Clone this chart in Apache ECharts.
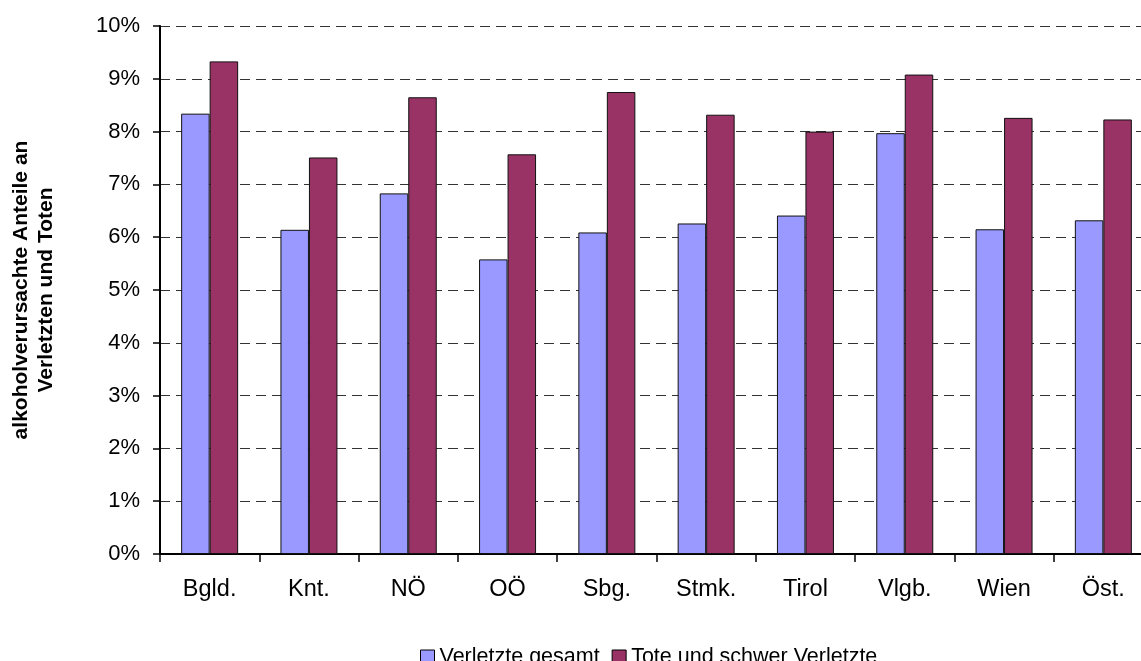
<!DOCTYPE html>
<html>
<head>
<meta charset="utf-8">
<script src="https://cdn.jsdelivr.net/npm/echarts@6/dist/echarts.min.js"></script>
<style>
html,body{margin:0;padding:0;background:#fff;}
#main{width:1141px;height:661px;}
</style>
</head>
<body>
<div id="main"></div>
<script>
const categories = ['Bgld.', 'Knt.', 'NÖ', 'OÖ', 'Sbg.', 'Stmk.', 'Tirol', 'Vlgb.', 'Wien', 'Öst.'];
const verletzteGesamt = [8.34, 6.14, 6.83, 5.58, 6.09, 6.26, 6.41, 7.97, 6.15, 6.32];
const toteSchwerVerletzte = [9.33, 7.51, 8.65, 7.57, 8.75, 8.32, 8.00, 9.08, 8.26, 8.23];
const yTicks = [0, 1, 2, 3, 4, 5, 6, 7, 8, 9, 10];

const FONT = "'Liberation Sans', Arial, sans-serif";
const chart = echarts.init(document.getElementById('main'), null, {renderer: 'canvas'});
chart.setOption({
  animation: false,
  backgroundColor: '#ffffff',
  textStyle: {fontFamily: FONT, color: '#000'},
  grid: {left: 160, top: 26, width: 993, height: 528, containLabel: false, outerBoundsMode: 'none'},
  legend: {
    left: 415, top: 641,
    itemWidth: 14, itemHeight: 14, itemGap: 12,
    textStyle: {fontFamily: FONT, fontSize: 21.5, color: '#000'},
    data: [
      {name: 'Verletzte gesamt', icon: 'rect', itemStyle: {borderColor: '#000', borderWidth: 1}},
      {name: 'Tote und schwer Verletzte', icon: 'rect', itemStyle: {borderColor: '#000', borderWidth: 1}}
    ]
  },
  xAxis: {
    type: 'category',
    data: categories,
    boundaryGap: true,
    axisLine: {lineStyle: {color: '#000', width: 2}},
    axisTick: {show: true, length: 8, lineStyle: {color: '#000', width: 1.5}, alignWithLabel: false},
    axisLabel: {fontFamily: FONT, fontSize: 23.5, color: '#000', margin: 24},
    splitLine: {show: false}
  },
  yAxis: {
    type: 'value',
    min: yTicks[0], max: yTicks[yTicks.length - 1], interval: 1,
    name: 'alkoholverursachte Anteile an\nVerletzten und Toten',
    nameLocation: 'middle',
    nameRotate: 90,
    nameGap: 101,
    nameTextStyle: {fontFamily: FONT, fontSize: 21, fontWeight: 'bold', color: '#000', lineHeight: 25, align: 'center'},
    axisLine: {show: true, lineStyle: {color: '#000', width: 2}},
    axisTick: {show: true, length: 7, lineStyle: {color: '#000', width: 1.5}},
    axisLabel: {fontFamily: FONT, fontSize: 22, color: '#000', margin: 20, formatter: '{value}%'},
    splitLine: {show: true, lineStyle: {color: '#333', width: 1, type: [10, 6]}}
  },
  series: [
    {
      name: 'Verletzte gesamt', type: 'bar', data: verletzteGesamt,
      barWidth: 28.5, barGap: '0%',
      itemStyle: {color: '#9999FF', borderColor: '#111', borderWidth: 1}
    },
    {
      name: 'Tote und schwer Verletzte', type: 'bar', data: toteSchwerVerletzte,
      barWidth: 28.5, barGap: '0%',
      itemStyle: {color: '#993366', borderColor: '#111', borderWidth: 1}
    }
  ]
});
</script>
</body>
</html>
